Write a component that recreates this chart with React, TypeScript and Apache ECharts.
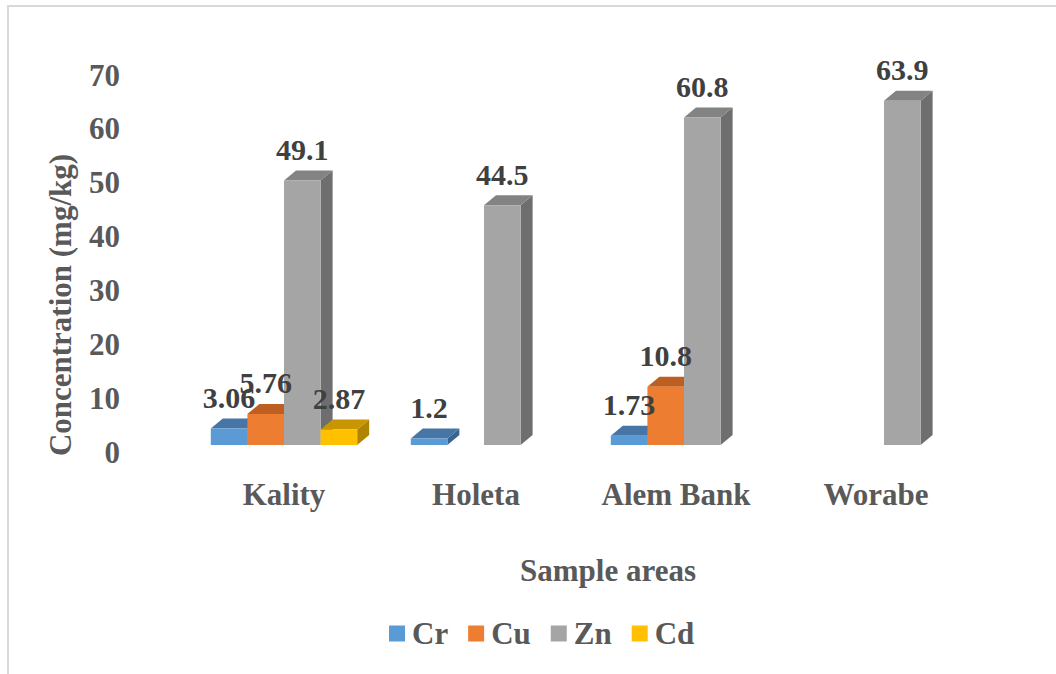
import React, { useEffect, useRef } from "react";
import * as echarts from "echarts";

const categories = ["Kality", "Holeta", "Alem Bank", "Worabe"];
const metals = ["Cr", "Cu", "Zn", "Cd"];
const crValues: (number | null)[] = [3.06, 1.2, 1.73, null];
const cuValues: (number | null)[] = [5.76, null, 10.8, null];
const znValues: (number | null)[] = [49.1, 44.5, 60.8, 63.9];
const cdValues: (number | null)[] = [2.87, null, null, null];
const seriesValues = [crValues, cuValues, znValues, cdValues];

const yMin = 0;
const yMax = 70;
const yInterval = 10;

const frontColors = ["#5B9BD5", "#ED7D31", "#A5A5A5", "#FFC000"];
const topColors = ["#4775A6", "#BE5F22", "#838383", "#C79600"];
const sideColors = ["#3A6590", "#A65219", "#6E6E6E", "#AF8400"];

const TEXT = "#595959";
const FONT = "'Times New Roman', 'Liberation Serif', 'DejaVu Serif', serif";
const BAR_RATIO = 0.183;
const DEPTH_X = 12;
const DEPTH_Y = -10;
const FRONT_DY = -7;

const labelFont = {
  color: TEXT,
  fontSize: 31,
  fontWeight: "bold",
  fontFamily: FONT,
};

function makeRender(slot: number) {
  return (params: any, api: any) => {
    const v = api.value(1);
    if (v == null || isNaN(v)) return null;
    const ci = api.value(0);
    const base = api.coord([ci, 0]);
    const tp = api.coord([ci, v]);
    const band = api.size([1, 0])[0];
    const w = band * BAR_RATIO;
    const cx = base[0] + (slot - 1.5) * w;
    const x0 = cx - w / 2;
    const x1 = cx + w / 2;
    const yb = base[1] + FRONT_DY;
    const yt = tp[1] + FRONT_DY;
    const dx = DEPTH_X;
    const dy = DEPTH_Y;
    return {
      type: "group",
      children: [
        {
          type: "polygon",
          shape: { points: [[x1, yb], [x1 + dx, yb + dy], [x1 + dx, yt + dy], [x1, yt]] },
          style: { fill: sideColors[slot] },
        },
        {
          type: "polygon",
          shape: { points: [[x0, yt], [x0 + dx, yt + dy], [x1 + dx, yt + dy], [x1, yt]] },
          style: { fill: topColors[slot] },
        },
        {
          type: "rect",
          shape: { x: x0, y: yt, width: w, height: yb - yt },
          style: { fill: frontColors[slot] },
        },
        {
          type: "text",
          x: cx,
          y: yt - 31,
          z2: 100,
          style: {
            text: String(v),
            fill: "#404040",
            fontSize: 30,
            fontWeight: "bold",
            fontFamily: FONT,
            align: "center",
            verticalAlign: "middle",
          },
        },
      ],
    };
  };
}

export default function App() {
  const ref = useRef<HTMLDivElement>(null);
  useEffect(() => {
    if (!ref.current) return;
    const chart = echarts.init(ref.current, undefined, { renderer: "svg" });
    const option: any = {
      animation: false,
      backgroundColor: "#ffffff",
      color: frontColors,
      grid: { left: 184, right: 72, top: 75, bottom: 222, containLabel: false },
      xAxis: {
        type: "category",
        data: categories,
        axisLine: { show: false },
        axisTick: { show: false },
        splitLine: { show: false },
        axisLabel: {
          margin: 27,
          interval: 0,
          hideOverlap: false,
          ...labelFont,
          formatter: (value: string, index: number) =>
            index === 0 ? `{a|${value}}` : `{b|${value}}`,
          rich: {
            a: { ...labelFont },
            b: { ...labelFont, padding: [0, 16, 0, 0] },
          },
        },
      },
      yAxis: {
        type: "value",
        min: yMin,
        max: yMax,
        interval: yInterval,
        axisLine: { show: false },
        axisTick: { show: false },
        splitLine: { show: false },
        axisLabel: {
          margin: 64,
          ...labelFont,
        },
      },
      legend: {
        left: 384,
        top: 613,
        icon: "rect",
        itemWidth: 16,
        itemHeight: 16,
        itemGap: 20,
        data: metals,
        textStyle: {
          ...labelFont,
          padding: [0, 0, 0, 2],
        },
      },
      graphic: [
        {
          type: "line",
          shape: { x1: 7, y1: 6, x2: 1056, y2: 6 },
          style: { stroke: "#d9d9d9", lineWidth: 2 },
        },
        {
          type: "line",
          shape: { x1: 8, y1: 6, x2: 8, y2: 674 },
          style: { stroke: "#d9d9d9", lineWidth: 2 },
        },
        {
          type: "text",
          x: 60,
          y: 305,
          rotation: Math.PI / 2,
          style: {
            text: "Concentration (mg/kg)",
            fill: TEXT,
            fontSize: 31,
            fontWeight: "bold",
            fontFamily: FONT,
            align: "center",
            verticalAlign: "middle",
          },
        },
        {
          type: "text",
          x: 608,
          y: 570,
          style: {
            text: "Sample areas",
            fill: TEXT,
            fontSize: 31,
            fontWeight: "bold",
            fontFamily: FONT,
            align: "center",
            verticalAlign: "middle",
          },
        },
      ],
      series: metals.map((m, slot) => ({
        name: m,
        type: "custom",
        renderItem: makeRender(slot),
        itemStyle: { color: frontColors[slot] },
        encode: { x: 0, y: 1 },
        data: seriesValues[slot].map((v, i) => [i, v == null ? "-" : v]),
      })),
    };
    chart.setOption(option);
    return () => chart.dispose();
  }, []);
  return (
    <div
      ref={ref}
      style={{ position: "fixed", left: 0, top: 0, width: 1056, height: 674, background: "#fff" }}
    />
  );
}
